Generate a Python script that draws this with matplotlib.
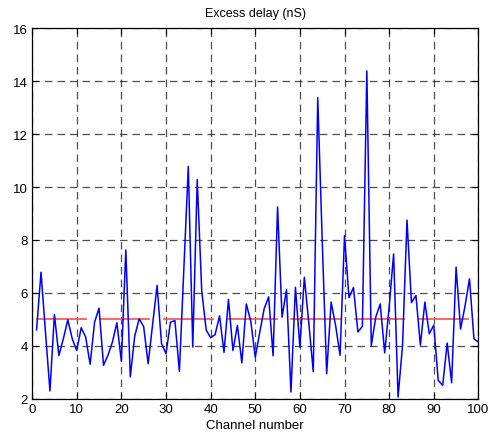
import matplotlib
matplotlib.use("Agg")
import matplotlib.pyplot as plt

plt.rcParams['font.family'] = ['Liberation Sans', 'DejaVu Sans']

# Excess delay per channel
channels = list(range(1, 101))
excess_delay = [
    4.60, 6.78, 4.50, 2.29, 5.18, 3.63, 4.26, 4.98, 4.26, 3.82,
    4.68, 4.33, 3.30, 4.89, 5.42, 3.26, 3.64, 4.14, 4.87, 3.41,
    7.62, 2.82, 4.37, 5.02, 4.72, 3.32, 4.80, 6.28, 4.08, 3.70,
    4.89, 4.95, 3.03, 6.90, 10.78, 3.95, 10.28, 6.10, 4.60, 4.30,
    4.42, 5.13, 3.75, 5.75, 3.82, 4.77, 3.35, 5.58, 4.92, 3.57,
    4.50, 5.40, 5.85, 3.62, 9.25, 5.08, 6.12, 2.25, 6.21, 3.95,
    6.59, 4.85, 3.02, 13.38, 8.00, 2.94, 5.65, 4.77, 3.64, 8.16,
    5.82, 6.20, 4.52, 4.73, 14.39, 4.01, 5.08, 5.58, 3.73, 5.46,
    7.47, 2.06, 4.01, 8.75, 5.63, 5.90, 4.02, 5.65, 4.45, 4.78,
    2.69, 2.50, 4.10, 2.60, 6.97, 4.63, 5.50, 6.53, 4.26, 4.14,
]

# Threshold segments
threshold = 5.0
seg_start = [1.0, 15.3, 29.6, 43.9, 58.1, 72.4, 86.7]
seg_end = [12.0, 26.3, 40.6, 54.9, 69.1, 83.4, 97.7]

x_ticks = [0, 10, 20, 30, 40, 50, 60, 70, 80, 90, 100]
y_ticks = [2, 4, 6, 8, 10, 12, 14, 16]

fig = plt.figure(figsize=(4.93, 4.39), dpi=100)
ax = fig.add_axes([0.0651, 0.0897, 0.9053, 0.8435])

for s, e in zip(seg_start, seg_end):
    ax.plot([s, e], [threshold, threshold], color='#ff4c4c', linewidth=1.2, zorder=2)
ax.plot(channels, excess_delay, color='#0000ff', linewidth=1.1, zorder=3)

ax.set_xlim(0, 100)
ax.set_ylim(2, 16)
ax.set_xticks(x_ticks)
ax.set_yticks(y_ticks)
ax.grid(True, color='#222222', linestyle=(0, (6, 4)), linewidth=0.9, alpha=0.8)
ax.tick_params(direction='in', top=True, right=True, length=4, width=0.8,
               labelsize=9.5, pad=3)
for sp in ax.spines.values():
    sp.set_linewidth(0.9)

ax.set_title('Excess delay (nS)', fontsize=9, pad=9)
ax.set_xlabel('Channel number', fontsize=9.5, labelpad=3)

fig.savefig('out.png', dpi=100)
